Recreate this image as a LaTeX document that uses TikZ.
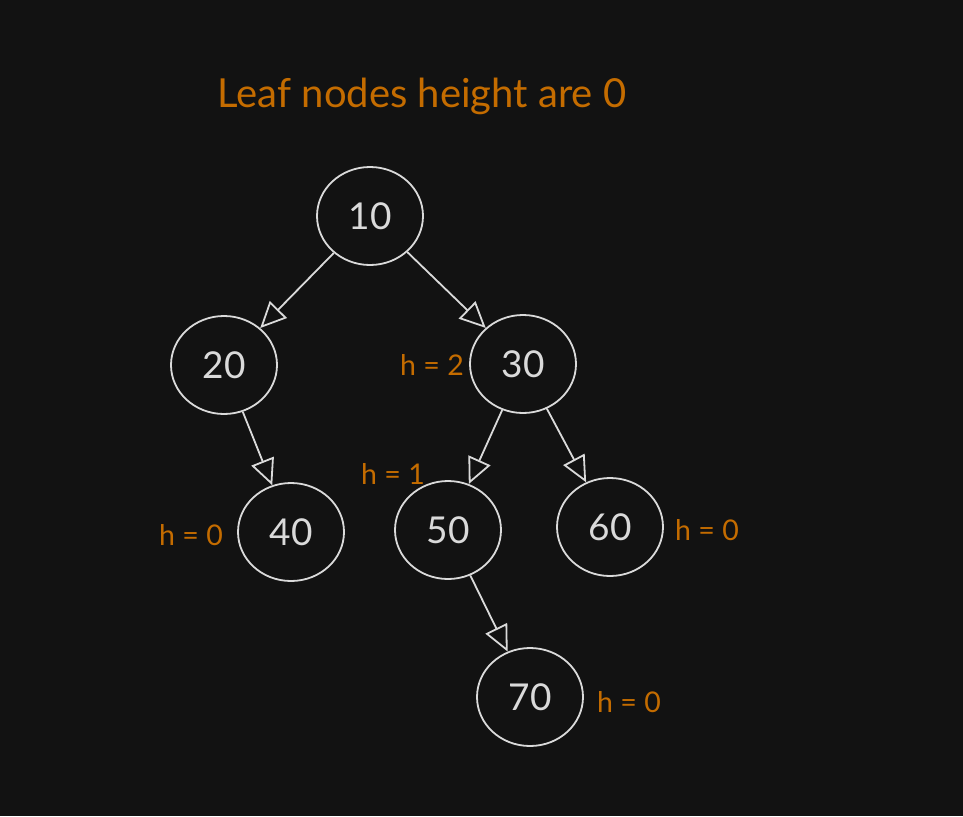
\documentclass[tikz,border=0pt]{standalone}
\usepackage{fontspec}
\setmainfont{Lato}
\usetikzlibrary{arrows.meta,shapes.geometric}
\definecolor{bg}{HTML}{121212}
\definecolor{fg}{HTML}{DADADA}
\definecolor{accent}{HTML}{C46C00}
\begin{document}
\begin{tikzpicture}[x=1pt,y=-1pt,
  treenode/.style={draw=fg, line width=1.8pt, ellipse, minimum width=106pt, minimum height=98pt, inner sep=0pt, text=fg, font=\fontsize{37}{40}\selectfont},
  hlabel/.style={text=accent, font=\fontsize{28.5}{32}\selectfont, inner sep=0pt},
  edge/.style={draw=fg, line width=1.8pt, -{Triangle[open, length=26pt, width=24pt]}}]
\fill[bg] (0,0) rectangle (963,816);
\useasboundingbox (0,0) rectangle (963,816);
\node[text=accent, font=\fontsize{40}{44}\selectfont, inner sep=0pt] (title) at (422,96) {Leaf nodes height are 0};
\node[treenode] (n10) at (370,216) {10};
\node[treenode] (n20) at (224,365) {20};
\node[treenode] (n30) at (523,364) {30};
\node[treenode] (n40) at (291,532) {40};
\node[treenode] (n50) at (448,530) {50};
\node[treenode] (n60) at (610,527) {60};
\node[treenode] (n70) at (530,697) {70};
\node[hlabel] (h30) at (432,365) {h = 2};
\node[hlabel] (h50) at (393,474) {h = 1};
\node[hlabel] (h40) at (191,535) {h = 0};
\node[hlabel] (h60) at (707,530) {h = 0};
\node[hlabel] (h70) at (629,702) {h = 0};
\draw[edge] (n10) -- (n20);
\draw[edge] (n10) -- (n30);
\draw[edge] (n20) -- (n40);
\draw[edge] (n30) -- (n50);
\draw[edge] (n30) -- (n60);
\draw[edge] (n50) -- (n70);
\end{tikzpicture}
\end{document}
